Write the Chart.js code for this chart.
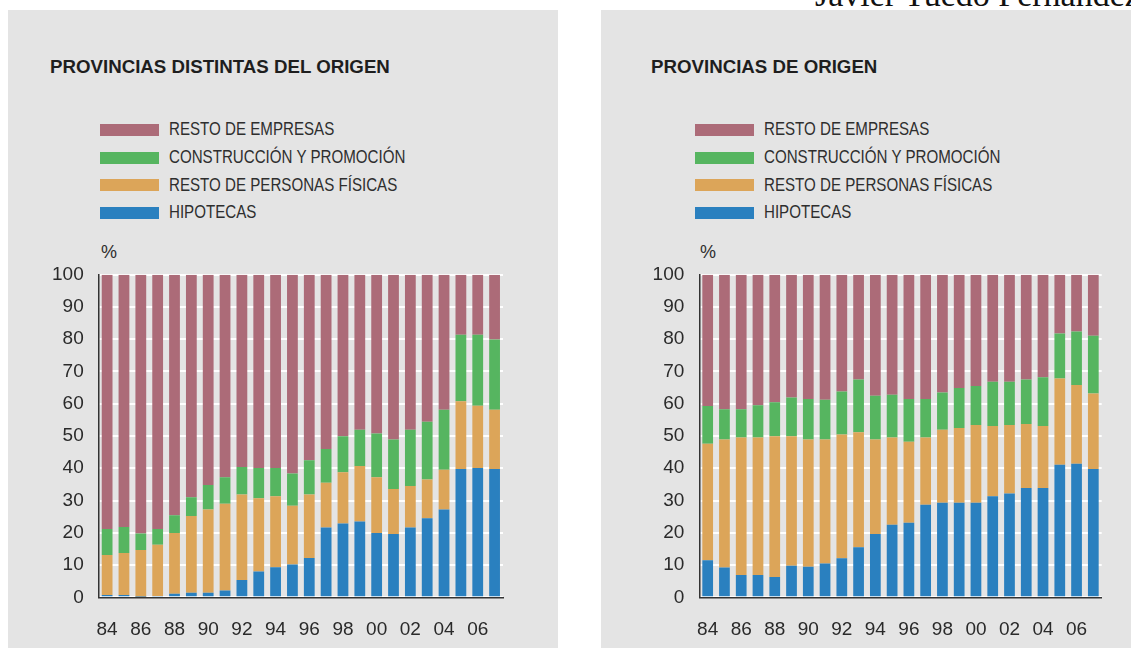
<!DOCTYPE html>
<html>
<head>
<meta charset="utf-8">
<script src="https://cdn.jsdelivr.net/npm/chart.js@4.4.0/dist/chart.umd.min.js"></script>
<style>
    html, body { margin: 0; padding: 0; background: #fff; }
    body { width: 1131px; height: 648px; position: relative; overflow: hidden; font-family: "Liberation Sans", Arial, sans-serif; }
    .author { position: absolute; left: 815px; top: -22px; font: 34px/34px "Liberation Serif", serif; color: #111; white-space: nowrap; z-index: 0; }
    .panel { position: absolute; top: 10px; height: 650px; background: #e4e4e4; z-index: 1; }
    .title { position: absolute; top: 47px; font-weight: bold; font-size: 18.7px; line-height: 19px; color: #1e1e1e; white-space: nowrap; }
    .legend { position: absolute; top: 106px; }
    .legend .row { display: flex; align-items: center; height: 27.8px; }
    .legend .swatch { width: 59px; height: 12px; margin-right: 10px; flex: none; }
    .legend .lbl { display: inline-block; font: 18px/27.8px "Liberation Sans", Arial, sans-serif; color: #2e2e2e; white-space: nowrap; transform: scaleX(0.84); transform-origin: left center; }
    .pct { position: absolute; top: 233px; font-size: 18px; line-height: 18px; color: #2e2e2e; }
    canvas { position: absolute; top: 230px; }
</style>
</head>
<body>
<div class="author">Javier Tuedo Fernández</div>

<div class="panel" style="left:8px; width:550px;">
    <div class="title" style="left:42px;">PROVINCIAS DISTINTAS DEL ORIGEN</div>
    <div class="legend" id="legend-left" style="left:92px;"></div>
    <div class="pct" style="left:93px;">%</div>
    <canvas id="chartLeft" width="550" height="408"></canvas>
</div>

<div class="panel" style="left:601px; width:530px;">
    <div class="title" style="left:50px;">PROVINCIAS DE ORIGEN</div>
    <div class="legend" id="legend-right" style="left:94px;"></div>
    <div class="pct" style="left:99px;">%</div>
    <canvas id="chartRight" width="530" height="408"></canvas>
</div>

<script>
// years on the x axis, only every other one is labelled
const years = ['84', '85', '86', '87', '88', '89', '90', '91', '92', '93', '94', '95',
               '96', '97', '98', '99', '00', '01', '02', '03', '04', '05', '06', '07'];
const xTickLabels = ['84', '86', '88', '90', '92', '94', '96', '98', '00', '02', '04', '06'];
const yTicks = [0, 10, 20, 30, 40, 50, 60, 70, 80, 90, 100];

const seriesNames = ['HIPOTECAS', 'RESTO DE PERSONAS FÍSICAS', 'CONSTRUCCIÓN Y PROMOCIÓN', 'RESTO DE EMPRESAS'];
const seriesColors = ['#2a80bf', '#dca559', '#56b560', '#ac6b78'];

// Provincias distintas del origen (%)
const distHipotecas    = [0.7, 0.7, 0.2, 0.4, 1.1, 1.4, 1.4, 2.1, 5.4, 8.0, 9.3, 10.2, 12.2, 21.6, 22.9, 23.5, 19.9, 19.6, 21.6, 24.5, 27.2, 39.8, 40.1, 39.8];
const distPersonas     = [12.4, 13.0, 14.5, 15.9, 18.8, 23.8, 25.8, 26.9, 26.5, 22.7, 22.0, 18.2, 19.7, 13.9, 15.9, 17.2, 17.3, 14.0, 12.9, 12.0, 12.3, 21.0, 19.3, 18.3];
const distConstruccion = [8.1, 8.1, 5.1, 4.9, 5.5, 5.8, 7.6, 8.2, 8.5, 9.4, 8.8, 10.0, 10.6, 10.5, 11.1, 11.2, 13.6, 15.3, 17.4, 17.9, 18.6, 20.6, 22.0, 21.8];
const distEmpresas     = [78.8, 78.2, 80.2, 78.8, 74.6, 69.0, 65.2, 62.8, 59.6, 59.9, 59.9, 61.6, 57.5, 54.0, 50.1, 48.1, 49.2, 51.1, 48.1, 45.6, 41.9, 18.6, 18.6, 20.1];

// Provincias de origen (%)
const origHipotecas    = [11.5, 9.2, 6.9, 6.9, 6.3, 9.8, 9.5, 10.5, 12.1, 15.5, 19.6, 22.5, 23.1, 28.7, 29.3, 29.3, 29.3, 31.3, 32.2, 33.9, 33.9, 41.1, 41.4, 39.8];
const origPersonas     = [36.1, 39.7, 42.6, 42.6, 43.6, 40.1, 39.4, 38.4, 38.4, 35.7, 29.3, 27.0, 25.1, 20.8, 22.6, 23.2, 24.1, 21.8, 21.2, 19.8, 19.2, 26.7, 24.4, 23.4];
const origConstruccion = [11.7, 9.4, 8.8, 10.0, 10.6, 12.0, 12.6, 12.3, 13.3, 16.3, 13.6, 13.3, 13.3, 12.0, 11.6, 12.4, 12.1, 13.7, 13.4, 13.8, 15.1, 14.0, 16.6, 17.9];
const origEmpresas     = [40.7, 41.7, 41.7, 40.5, 39.5, 38.1, 38.5, 38.8, 36.2, 32.5, 37.5, 37.2, 38.5, 38.5, 36.5, 35.1, 34.5, 33.2, 33.2, 32.5, 31.8, 18.2, 17.6, 18.9];

function buildLegend(id) {
    const box = document.getElementById(id);
    // legend lists the top segment first
    for (let i = seriesNames.length - 1; i >= 0; i--) {
        const row = document.createElement('div');
        row.className = 'row';
        row.innerHTML = `<span class="swatch" style="background:${seriesColors[i]}"></span><span class="lbl">${seriesNames[i]}</span>`;
        box.appendChild(row);
    }
}

function makeChart(canvasId, seriesData, yWidth, rightPad) {
    const ctx = document.getElementById(canvasId).getContext('2d');
    const tickFont = { family: "'Liberation Sans', Arial, sans-serif", size: 19 };

    return new Chart(ctx, {
        type: 'bar',
        data: {
            labels: years,
            datasets: seriesData.map((d, i) => ({
                label: seriesNames[i],
                data: d,
                backgroundColor: seriesColors[i],
                borderWidth: 0,
                categoryPercentage: 1,
                barPercentage: 0.64
            }))
        },
        options: {
            responsive: false,
            animation: false,
            devicePixelRatio: 1,
            layout: { padding: { top: 34.7, right: rightPad, bottom: 0, left: 0 } },
            plugins: { legend: { display: false }, tooltip: { enabled: false } },
            scales: {
                x: {
                    stacked: true,
                    grid: { color: 'rgba(0,0,0,0)', drawTicks: false },
                    border: { display: true, color: '#333', width: 1.5 },
                    ticks: {
                        autoSkip: false,
                        maxRotation: 0,
                        padding: 21,
                        color: '#2a2a2a',
                        font: tickFont,
                        callback: (v, i) => xTickLabels.includes(years[i]) ? years[i] : ''
                    },
                    afterFit: s => { s.height = 50.7; }
                },
                y: {
                    stacked: true,
                    min: yTicks[0],
                    max: yTicks[yTicks.length - 1],
                    grid: { color: '#ffffff', lineWidth: 2, drawTicks: false },
                    border: { display: true, color: '#333', width: 1.5 },
                    ticks: { stepSize: 10, padding: 15, color: '#2a2a2a', font: tickFont },
                    afterFit: s => { s.width = yWidth; }
                }
            }
        }
    });
}

buildLegend('legend-left');
buildLegend('legend-right');

makeChart('chartLeft', [distHipotecas, distPersonas, distConstruccion, distEmpresas], 90.7, 55);
makeChart('chartRight', [origHipotecas, origPersonas, origConstruccion, origEmpresas], 98.3, 29.3);
</script>
</body>
</html>
